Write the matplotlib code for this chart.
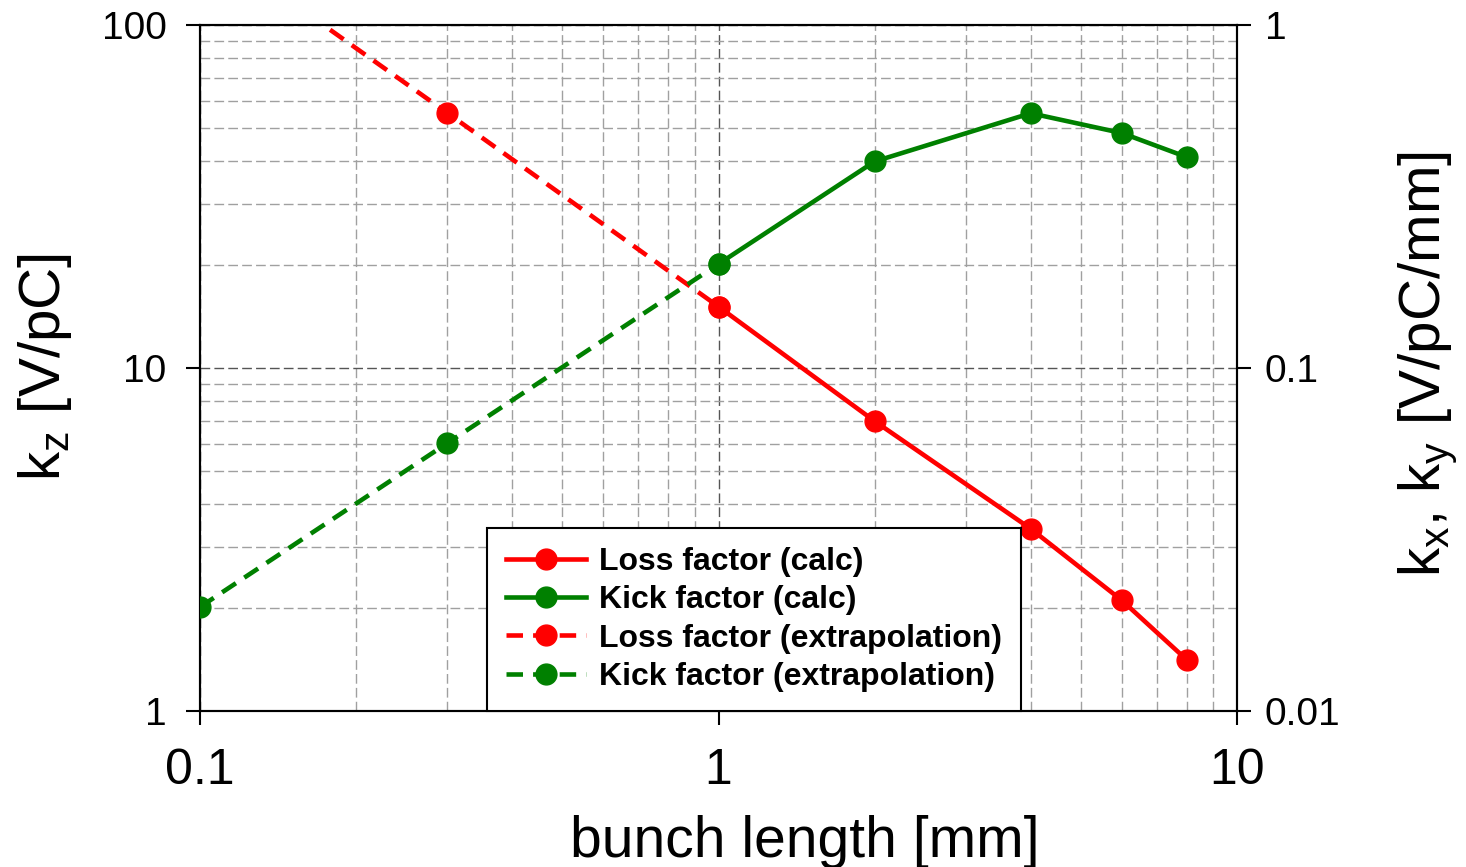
import matplotlib
matplotlib.use("Agg")
import matplotlib.pyplot as plt

plt.rcParams['font.family'] = ['Liberation Sans', 'DejaVu Sans']
plt.rcParams['mathtext.fontset'] = 'custom'
plt.rcParams['mathtext.rm'] = 'Liberation Sans'

# bunch length [mm]
loss_calc_x = [1, 2, 4, 6, 8]
loss_calc_y = [15.1, 7.0, 3.4, 2.1, 1.41]        # k_z [V/pC]
kick_calc_x = [1, 2, 4, 6, 8]
kick_calc_y = [0.201, 0.40, 0.553, 0.484, 0.412]  # k_x, k_y [V/pC/mm]

loss_extr_x = [0.1, 0.3, 1]
loss_extr_y = [180, 55.4, 15.1]
kick_extr_x = [0.1, 0.3, 1]
kick_extr_y = [0.0201, 0.0604, 0.201]

red = '#ff0000'
green = '#008000'

fig = plt.figure(figsize=(14.66, 8.67), dpi=100)
ax = fig.add_axes([200/1466, 1 - 711/867, 1037/1466, 686/867])
ax2 = ax.twinx()

ax.set_xscale('log')
ax.set_yscale('log')
ax2.set_yscale('log')
ax.set_xlim(0.1, 10)
ax.set_ylim(1, 100)
ax2.set_ylim(0.01, 1)

ax.grid(True, which='major', color='#555555', linestyle=(0, (7, 3)), linewidth=1)
ax.grid(True, which='minor', color='#a0a0a0', linestyle=(0, (7, 3)), linewidth=1)
ax.set_axisbelow(True)

lw = 3.3
ms = 15
dash = (0, (3.6, 2.2))
l1, = ax.plot(loss_calc_x, loss_calc_y, '-o', color=red, lw=lw, ms=ms,
              label='Loss factor (calc)', zorder=3)
l3, = ax.plot(loss_extr_x, loss_extr_y, 'o', color=red, lw=lw, ms=ms, ls=dash,
              label='Loss factor (extrapolation)', zorder=3)
l2, = ax2.plot(kick_calc_x, kick_calc_y, '-o', color=green, lw=lw, ms=ms,
               label='Kick factor (calc)', zorder=3)
l4, = ax2.plot(kick_extr_x, kick_extr_y, 'o', color=green, lw=lw, ms=ms, ls=dash,
               label='Kick factor (extrapolation)', zorder=3)

ax.set_xticks([0.1, 1, 10])
ax.set_xticklabels(['0.1', '1', '10'])
ax.set_yticks([1, 10, 100])
ax.set_yticklabels(['1', '10', '100'])
ax2.set_yticks([0.01, 0.1, 1])
ax2.set_yticklabels(['0.01', '0.1', '1'])
for a in (ax, ax2):
    a.tick_params(which='major', direction='out', length=10, width=1.5, labelsize=28)
    a.tick_params(which='minor', length=0)
    for s in a.spines.values():
        s.set_linewidth(1.5)
ax.tick_params(axis='x', labelsize=36, pad=17)
ax.tick_params(axis='y', pad=14)
ax2.tick_params(axis='y', pad=10)

ax.set_xlabel('bunch length [mm]', fontsize=41)
ax.xaxis.label.set_va('baseline')
ax.xaxis.set_label_coords((805 - 200) / 1037, (711 - 857) / 686)

ax.set_ylabel(r'k$_\mathregular{z}$ [V/pC]', fontsize=42)
ax.yaxis.label.set_va('center')
ax.yaxis.set_label_coords((45 - 200) / 1037, (711 - 367) / 686)

ax2.set_ylabel(r'k$_\mathregular{x}$, k$_\mathregular{y}$ [V/pC/mm]', fontsize=42)
ax2.yaxis.label.set_va('center')
ax2.yaxis.set_label_coords((1428 - 200) / 1037, (711 - 364) / 686)

leg = ax2.legend([l1, l2, l3, l4], [h.get_label() for h in (l1, l2, l3, l4)],
                 loc='lower left', bbox_to_anchor=(287/1037, 0), fancybox=False,
                 framealpha=1, edgecolor='black', borderaxespad=0,
                 prop={'weight': 'bold', 'size': 23}, handlelength=2.5,
                 labelspacing=0.26, borderpad=0.6, handletextpad=0.4)
leg.get_frame().set_linewidth(1.5)

fig.savefig('out.png', dpi=100)
